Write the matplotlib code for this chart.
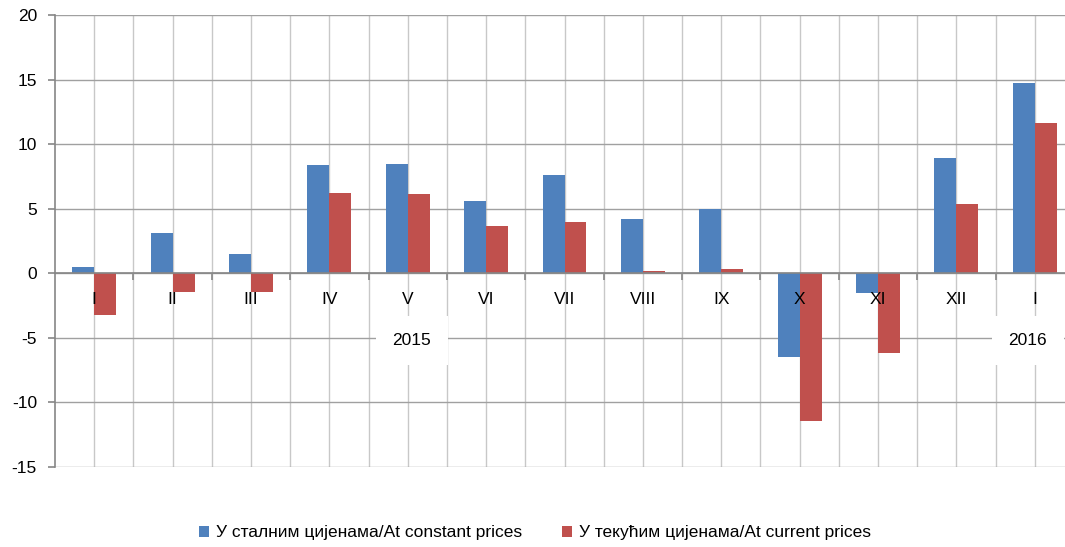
import matplotlib.pyplot as plt
import numpy as np
from matplotlib import font_manager

months = ['I', 'II', 'III', 'IV', 'V', 'VI', 'VII', 'VIII', 'IX', 'X', 'XI', 'XII', 'I']
years = ['2015', '2016']
constant = [0.5, 3.1, 1.5, 8.4, 8.45, 5.6, 7.6, 4.2, 5.0, -6.5, -1.55, 8.9, 14.7]
current = [-3.2, -1.45, -1.45, 6.2, 6.15, 3.7, 4.0, 0.2, 0.35, -11.45, -6.2, 5.4, 11.65]

names = {f.name for f in font_manager.fontManager.ttflist}
fam = ['Liberation Sans Narrow', 'Liberation Sans', 'DejaVu Sans']
narrow = 'Liberation Sans Narrow' in names
fs = 14.5 if narrow else 12.5
plt.rcParams['font.family'] = fam
plt.rcParams['axes.unicode_minus'] = False

fig = plt.figure(figsize=(10.65, 5.47), dpi=100)
ax = fig.add_axes([55 / 1065, 1 - 467 / 547, (1074 - 55) / 1065, (467 - 15) / 547])

x = np.arange(len(months))
w = 0.28
b1 = ax.bar(x - w / 2, constant, w, color='#4F81BD', label='У сталним цијенама/At constant prices', zorder=3)
b2 = ax.bar(x + w / 2, current, w, color='#C0504D', label='У текућим цијенама/At current prices', zorder=3)

ax.set_xlim(-0.5, len(months) - 0.5)
ax.set_ylim(-15, 20)
ax.set_yticks(range(-15, 21, 5))
ax.set_xticks(x)
ax.set_xticks(x[:-1] + 0.5, minor=True)
ax.set_xticklabels([])

ax.grid(axis='y', color='#a0a0a0', lw=1, zorder=0)
ax.grid(axis='x', which='both', color='#c8c8c8', lw=1, zorder=0)

for s in ['top', 'right']:
    ax.spines[s].set_visible(False)
ax.spines['left'].set_color('#868686')
ax.spines['left'].set_linewidth(1.2)
ax.spines['bottom'].set_position(('data', 0))
ax.spines['bottom'].set_color('#868686')
ax.spines['bottom'].set_linewidth(1.2)
ax.spines['bottom'].set_zorder(4)

ax.tick_params(axis='y', direction='out', length=5, width=1.2, color='#868686', labelsize=fs, pad=8)
ax.tick_params(axis='x', which='major', length=0)
ax.tick_params(axis='x', which='minor', direction='out', length=5, width=1.2, color='#868686')

# month labels: white patch behind bars, black text on top
for xi, m in zip(x, months):
    ax.annotate(m, (xi, 0), xytext=(0, -19), textcoords='offset points', fontsize=fs,
                ha='center', va='center', color='white', zorder=1,
                bbox=dict(facecolor='white', edgecolor='none', pad=6))
    ax.annotate(m, (xi, 0), xytext=(0, -19), textcoords='offset points', fontsize=fs,
                ha='center', va='center', color='black', zorder=5)

ax.text(4.05, -5.2, years[0], fontsize=fs, ha='center', va='center', zorder=5,
        bbox=dict(facecolor='white', edgecolor='none', pad=12))
ax.text(11.91, -5.2, years[1], fontsize=fs, ha='center', va='center', zorder=5,
        bbox=dict(facecolor='white', edgecolor='none', pad=12))

fig.legend(handles=[b1, b2], loc='center', bbox_to_anchor=(535 / 1065, 1 - 533 / 547),
           ncol=2, frameon=False, fontsize=fs, handlelength=0.55, handleheight=0.55,
           handletextpad=0.4, columnspacing=2.3)

fig.savefig('out.png', dpi=100)
